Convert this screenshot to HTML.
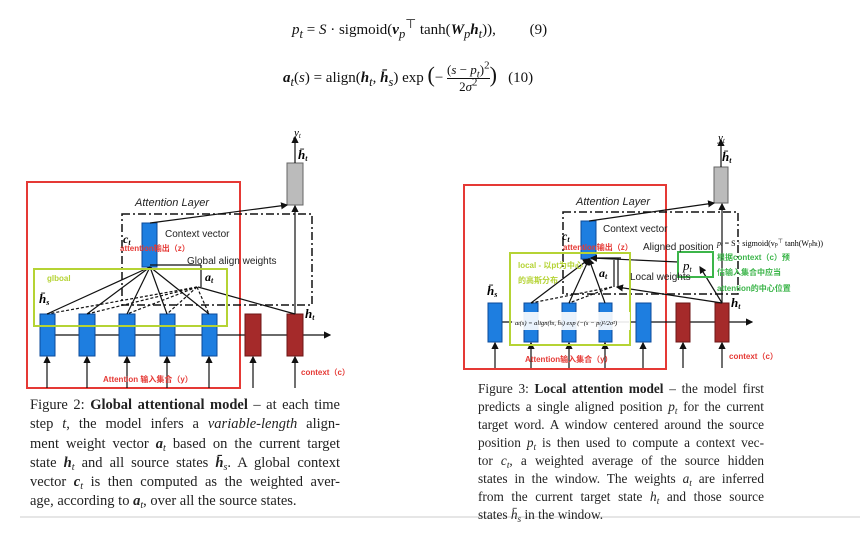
<!DOCTYPE html>
<html><head><meta charset="utf-8"><style>
body{margin:0;width:866px;height:538px;background:#fff;position:relative;overflow:hidden;font-family:"Liberation Serif",serif}
.cap{position:absolute;font-family:"Liberation Serif",serif;color:#222}
.cap div{text-align:justify;text-align-last:justify;white-space:nowrap;height:var(--lh);line-height:var(--lh)}
.cap div.l{text-align-last:left}
.cap sub{font-size:70%;line-height:0;vertical-align:-3px}
.eq{position:absolute;font-family:"Liberation Serif",serif;font-size:15px;color:#111;white-space:nowrap}
.eq sub,.eq sup{line-height:0}
</style></head><body>
<div class="eq" style="left:292px;top:22px"><i>p<sub>t</sub></i> = <i>S</i> · sigmoid(<b><i>v</i></b><sub><i>p</i></sub><sup>⊤</sup> tanh(<b><i>W</i></b><sub><i>p</i></sub><b><i>h</i></b><sub><i>t</i></sub>)), &nbsp;&nbsp;&nbsp;&nbsp;&nbsp;&nbsp;&nbsp; (9)</div>
<div class="eq" style="left:283px;top:62px"><b><i>a</i></b><sub><i>t</i></sub>(<i>s</i>) = align(<b><i>h</i></b><sub><i>t</i></sub>, <b><i>h̄</i></b><sub><i>s</i></sub>) exp <span style="font-size:22px">(</span>− <span style="display:inline-block;vertical-align:middle;text-align:center;font-size:13px"><span style="display:block;border-bottom:1px solid #111">(<i>s</i> − <i>p<sub>t</sub></i>)<sup>2</sup></span><span style="display:block">2<i>σ</i><sup>2</sup></span></span><span style="font-size:22px">)</span> &nbsp;&nbsp;(10)</div>

<svg width="866" height="538" style="position:absolute;left:0;top:0" font-family="Liberation Sans, sans-serif">
<defs><marker id="a" markerWidth="6" markerHeight="6" refX="5" refY="3" orient="auto"><path d="M0,0L6,3L0,6z" fill="#111"/></marker></defs>
<rect x="27" y="182" width="213" height="206" fill="none" stroke="#e53935" stroke-width="2"/>
<text x="135" y="206" font-size="11" font-style="italic" fill="#222">Attention Layer</text>
<rect x="122" y="214" width="190" height="91" fill="none" stroke="#111" stroke-width="1.5" stroke-dasharray="8,3,2,3"/>
<line x1="40" y1="335" x2="330" y2="335" stroke="#111" stroke-width="1.2" marker-end="url(#a)"/>
<g fill="#1e7ee0" stroke="#0b4a9a"><rect x="40" y="314" width="15" height="42"/><rect x="79" y="314" width="16" height="42"/><rect x="119" y="314" width="16" height="42"/><rect x="160" y="314" width="15" height="42"/><rect x="202" y="314" width="15" height="42"/><rect x="142" y="223" width="15" height="44"/></g>
<g fill="#a52a2a" stroke="#6d1717"><rect x="245" y="314" width="16" height="42"/><rect x="287" y="314" width="16" height="42"/></g>
<rect x="287" y="163" width="16" height="42" fill="#bbb" stroke="#666"/>
<g stroke="#111" stroke-width="1.2" marker-end="url(#a)"><line x1="47" y1="388" x2="47" y2="357"/><line x1="87" y1="388" x2="87" y2="357"/><line x1="127" y1="388" x2="127" y2="357"/><line x1="167" y1="388" x2="167" y2="357"/><line x1="209" y1="388" x2="209" y2="357"/><line x1="253" y1="388" x2="253" y2="357"/><line x1="295" y1="388" x2="295" y2="357"/><line x1="295" y1="314" x2="295" y2="206"/><line x1="295" y1="163" x2="295" y2="137"/><line x1="150" y1="223" x2="287" y2="205"/></g>
<g stroke="#111" stroke-width="1.2"><line x1="150" y1="267" x2="47" y2="314"/><line x1="150" y1="267" x2="87" y2="314"/><line x1="150" y1="267" x2="127" y2="314"/><line x1="150" y1="267" x2="167" y2="314"/><line x1="150" y1="267" x2="209" y2="314"/><line x1="150" y1="265" x2="201" y2="265"/><line x1="201" y1="265" x2="201" y2="287"/><line x1="198" y1="287" x2="295" y2="314"/>
<g stroke-dasharray="3,2"><line x1="197" y1="287" x2="47" y2="314"/><line x1="197" y1="287" x2="87" y2="314"/><line x1="197" y1="287" x2="127" y2="314"/><line x1="197" y1="287" x2="167" y2="314"/><line x1="197" y1="287" x2="209" y2="314"/></g></g>
<rect x="34" y="269" width="193" height="57" fill="none" stroke="#b5d334" stroke-width="2"/>
<text x="165" y="237" font-size="10" fill="#222">Context vector</text>
<text x="187" y="264" font-size="10" fill="#222">Global align weights</text>
<text x="120" y="251" font-size="8" font-weight="bold" fill="#e53935" font-family="Liberation Sans, Noto Sans CJK SC, sans-serif">attention输出（z）</text>
<text x="47" y="281" font-size="8" font-weight="bold" fill="#b5d334">glboal</text>
<text x="123" y="243" font-size="12" font-style="italic" font-weight="bold" font-family="Liberation Serif, serif">c<tspan font-size="8" dy="2">t</tspan></text>
<text x="205" y="281" font-size="12" font-style="italic" font-weight="bold" font-family="Liberation Serif, serif">a<tspan font-size="8" dy="2">t</tspan></text>
<text x="39" y="303" font-size="13" font-style="italic" font-weight="bold" font-family="Liberation Serif, serif">h̄<tspan font-size="8" dy="2">s</tspan></text>
<text x="305" y="318" font-size="13" font-style="italic" font-weight="bold" font-family="Liberation Serif, serif">h<tspan font-size="8" dy="2">t</tspan></text>
<text x="294" y="136" font-size="11" font-style="italic" font-family="Liberation Serif, serif">y<tspan font-size="7" dy="2">t</tspan></text>
<text x="298" y="159" font-size="13" font-style="italic" font-weight="bold" font-family="Liberation Serif, serif">h̄<tspan font-size="8" dy="2">t</tspan></text>
<text x="103" y="382" font-size="8" font-weight="bold" fill="#e53935" font-family="Liberation Sans, Noto Sans CJK SC, sans-serif">Attention 输入集合（y）</text>
<text x="301" y="375" font-size="8" font-weight="bold" fill="#e53935" font-family="Liberation Sans, Noto Sans CJK SC, sans-serif">context（c）</text>

<rect x="464" y="185" width="202" height="184" fill="none" stroke="#e53935" stroke-width="2"/>
<text x="576" y="205" font-size="11" font-style="italic" fill="#222">Attention Layer</text>
<rect x="563" y="212" width="175" height="82" fill="none" stroke="#111" stroke-width="1.5" stroke-dasharray="8,3,2,3"/>
<line x1="488" y1="322" x2="752" y2="322" stroke="#111" stroke-width="1.2" marker-end="url(#a)"/>
<g fill="#1e7ee0" stroke="#0b4a9a"><rect x="488" y="303" width="14" height="39"/><rect x="524" y="303" width="14" height="39"/><rect x="562" y="303" width="14" height="39"/><rect x="599" y="303" width="13" height="39"/><rect x="636" y="303" width="15" height="39"/><rect x="581" y="221" width="15" height="38"/></g>
<g fill="#a52a2a" stroke="#6d1717"><rect x="676" y="303" width="14" height="39"/><rect x="715" y="303" width="14" height="39"/></g>
<rect x="714" y="167" width="14" height="36" fill="#bbb" stroke="#666"/>
<g stroke="#111" stroke-width="1.2" marker-end="url(#a)"><line x1="495" y1="368" x2="495" y2="343"/><line x1="531" y1="368" x2="531" y2="343"/><line x1="569" y1="368" x2="569" y2="343"/><line x1="605" y1="368" x2="605" y2="343"/><line x1="643" y1="368" x2="643" y2="343"/><line x1="683" y1="368" x2="683" y2="343"/><line x1="722" y1="368" x2="722" y2="343"/><line x1="722" y1="303" x2="722" y2="204"/><line x1="721" y1="167" x2="721" y2="140"/><line x1="589" y1="221" x2="714" y2="203"/><line x1="531" y1="303" x2="589" y2="259"/><line x1="569" y1="303" x2="589" y2="259"/><line x1="605" y1="303" x2="589" y2="259"/><line x1="722" y1="303" x2="700" y2="267"/><line x1="678" y1="262" x2="591" y2="258"/><line x1="722" y1="303" x2="617" y2="287"/></g>
<g stroke="#111" stroke-width="1.2"><line x1="591" y1="258" x2="621" y2="258"/><line x1="618" y1="258" x2="618" y2="287"/><line x1="614" y1="260" x2="614" y2="287"/><g stroke-dasharray="3,2"><line x1="612" y1="287" x2="531" y2="303"/><line x1="612" y1="287" x2="569" y2="303"/></g></g>
<rect x="510" y="253" width="120" height="92" fill="none" stroke="#b5d334" stroke-width="2"/>
<rect x="678" y="252" width="35" height="25" fill="none" stroke="#3cb54a" stroke-width="2"/>
<rect x="512" y="312" width="118" height="18" fill="#fff" opacity="0.9"/>
<text x="515" y="325" font-size="6.5" font-family="Liberation Serif, serif" font-style="italic">a<tspan font-size="5">t</tspan>(s) = align(h<tspan font-size="5">t</tspan>, h̄<tspan font-size="5">s</tspan>) exp (−(s − p<tspan font-size="5">t</tspan>)²/2σ²)</text>
<text x="603" y="232" font-size="10" fill="#222">Context vector</text>
<text x="643" y="250" font-size="10" fill="#222">Aligned position</text>
<text x="630" y="280" font-size="10" fill="#222">Local weights</text>
<text x="563" y="250" font-size="8" font-weight="bold" fill="#e53935" font-family="Liberation Sans, Noto Sans CJK SC, sans-serif">attention输出（z）</text>
<text x="518" y="268" font-size="8" font-weight="bold" fill="#b5d334" font-family="Liberation Sans, Noto Sans CJK SC, sans-serif">local - 以pt为中心</text>
<text x="518" y="283" font-size="8" font-weight="bold" fill="#b5d334" font-family="Liberation Sans, Noto Sans CJK SC, sans-serif">的高斯分布</text>
<text x="717" y="246" font-size="8" font-family="Liberation Serif, serif"><tspan font-style="italic">p<tspan font-size="6">t</tspan></tspan> = S · sigmoid(v<tspan font-size="6">p</tspan><tspan font-size="6" dy="-3">⊤</tspan><tspan dy="3"> tanh(W</tspan><tspan font-size="6">p</tspan>h<tspan font-size="6">t</tspan>))</text>
<g font-size="8" font-weight="bold" fill="#3cb54a" font-family="Liberation Sans, Noto Sans CJK SC, sans-serif"><text x="717" y="260">根据context（c）预</text><text x="717" y="275">估输入集合中应当</text><text x="717" y="291">attention的中心位置</text></g>
<text x="562" y="240" font-size="12" font-style="italic" font-weight="bold" font-family="Liberation Serif, serif">c<tspan font-size="8" dy="2">t</tspan></text>
<text x="599" y="277" font-size="12" font-style="italic" font-weight="bold" font-family="Liberation Serif, serif">a<tspan font-size="8" dy="2">t</tspan></text>
<text x="683" y="270" font-size="13" font-style="italic" font-family="Liberation Serif, serif">p<tspan font-size="8" dy="2">t</tspan></text>
<text x="487" y="295" font-size="13" font-style="italic" font-weight="bold" font-family="Liberation Serif, serif">h̄<tspan font-size="8" dy="2">s</tspan></text>
<text x="731" y="307" font-size="13" font-style="italic" font-weight="bold" font-family="Liberation Serif, serif">h<tspan font-size="8" dy="2">t</tspan></text>
<text x="718" y="141" font-size="11" font-style="italic" font-family="Liberation Serif, serif">y<tspan font-size="7" dy="2">t</tspan></text>
<text x="722" y="161" font-size="13" font-style="italic" font-weight="bold" font-family="Liberation Serif, serif">h̄<tspan font-size="8" dy="2">t</tspan></text>
<text x="525" y="362" font-size="8" font-weight="bold" fill="#e53935" font-family="Liberation Sans, Noto Sans CJK SC, sans-serif">Attention输入集合（y）</text>
<text x="729" y="359" font-size="8" font-weight="bold" fill="#e53935" font-family="Liberation Sans, Noto Sans CJK SC, sans-serif">context（c）</text>
<line x1="20" y1="517" x2="860" y2="517" stroke="#ccc" stroke-width="1"/>
</svg>

<div class="cap" style="left:30px;top:396px;width:310px;font-size:14.5px;--lh:19.3px">
<div>Figure 2: <b>Global attentional model</b> – at each time</div>
<div>step <i>t</i>, the model infers a <i>variable-length</i> align-</div>
<div>ment weight vector <b><i>a</i></b><sub><i>t</i></sub> based on the current target</div>
<div>state <b><i>h</i></b><sub><i>t</i></sub> and all source states <b><i>h̄</i></b><sub><i>s</i></sub>. A global context</div>
<div>vector <b><i>c</i></b><sub><i>t</i></sub> is then computed as the weighted aver-</div>
<div class="l">age, according to <b><i>a</i></b><sub><i>t</i></sub>, over all the source states.</div>
</div>
<div class="cap" style="left:478px;top:380px;width:286px;font-size:13.3px;--lh:18px">
<div>Figure 3: <b>Local attention model</b> – the model first</div>
<div>predicts a single aligned position <i>p<sub>t</sub></i> for the current</div>
<div>target word. A window centered around the source</div>
<div>position <i>p<sub>t</sub></i> is then used to compute a context vec-</div>
<div>tor <i>c<sub>t</sub></i>, a weighted average of the source hidden</div>
<div>states in the window. The weights <i>a<sub>t</sub></i> are inferred</div>
<div>from the current target state <i>h<sub>t</sub></i> and those source</div>
<div class="l">states <i>h̄<sub>s</sub></i> in the window.</div>
</div>
</body></html>
